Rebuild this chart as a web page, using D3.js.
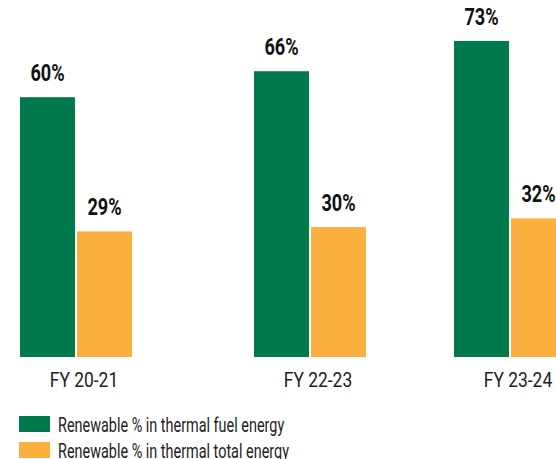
<!DOCTYPE html>
<html>
<head>
<meta charset="utf-8">
<script src="https://cdn.jsdelivr.net/npm/d3@7"></script>
<style>
  html, body { margin: 0; padding: 0; background: #fff; }
  svg { display: block; }
  text { font-family: Roboto, "Noto Sans", sans-serif; }
</style>
</head>
<body>
<svg id="chart" width="556" height="459"></svg>
<script>
// Fiscal years and the two renewable-share series (percent)
const categories = ["FY 20-21", "FY 22-23", "FY 23-24"];
const seriesNames = ["Renewable % in thermal fuel energy", "Renewable % in thermal total energy"];
const fuelShare = [60, 66, 73];
const totalShare = [29, 30, 32];
const colors = ["#00794c", "#faaf3e"];

const svg = d3.select("#chart");
const baseline = 357;
const barW = 54, barGap = 4;

// group centres along the axis
const x = d3.scaleOrdinal().domain(categories).range([76, 310, 510]);
const y = d3.scaleLinear().domain([0, 100]).range([baseline, baseline - 433]);

const sub = d3.scaleBand().domain([0, 1]).range([-barW - barGap / 2, barW + barGap / 2]).paddingInner(barGap / (2 * barW + barGap));

// condensed look: squeeze glyphs horizontally around their anchor
const squeeze = (px, py, s) => `translate(${px},${py}) scale(${s},1)`;

const series = [fuelShare, totalShare];
series.forEach((vals, si) => {
  const g = svg.append("g");
  g.selectAll("rect").data(vals).join("rect")
    .attr("x", (d, i) => x(categories[i]) + sub(si))
    .attr("y", d => y(d))
    .attr("width", sub.bandwidth())
    .attr("height", d => y(0) - y(d))
    .attr("fill", colors[si]);
  g.selectAll("text").data(vals).join("text")
    .attr("transform", (d, i) => squeeze(x(categories[i]) + sub(si) + sub.bandwidth() / 2, y(d) - 16, 0.74))
    .attr("text-anchor", "middle")
    .attr("font-size", 24.5)
    .attr("font-weight", "bold")
    .attr("fill", "#111")
    .text(d => d + "%");
});

// category labels under the groups
svg.append("g").selectAll("text").data(categories).join("text")
  .attr("transform", d => squeeze(x(d) + 8, 387, 0.83))
  .attr("text-anchor", "middle")
  .attr("font-size", 21)
  .attr("fill", "#222")
  .text(d => d);

// legend
const legend = svg.append("g").attr("transform", "translate(19,416)");
const li = legend.selectAll("g").data(seriesNames).join("g")
  .attr("transform", (d, i) => `translate(0,${i * 26})`);
li.append("rect").attr("width", 31).attr("height", 16).attr("fill", (d, i) => colors[i]);
li.append("text").attr("transform", squeeze(39, 16, 0.74)).attr("font-size", 19.5).attr("fill", "#222").text(d => d);
</script>
</body>
</html>
